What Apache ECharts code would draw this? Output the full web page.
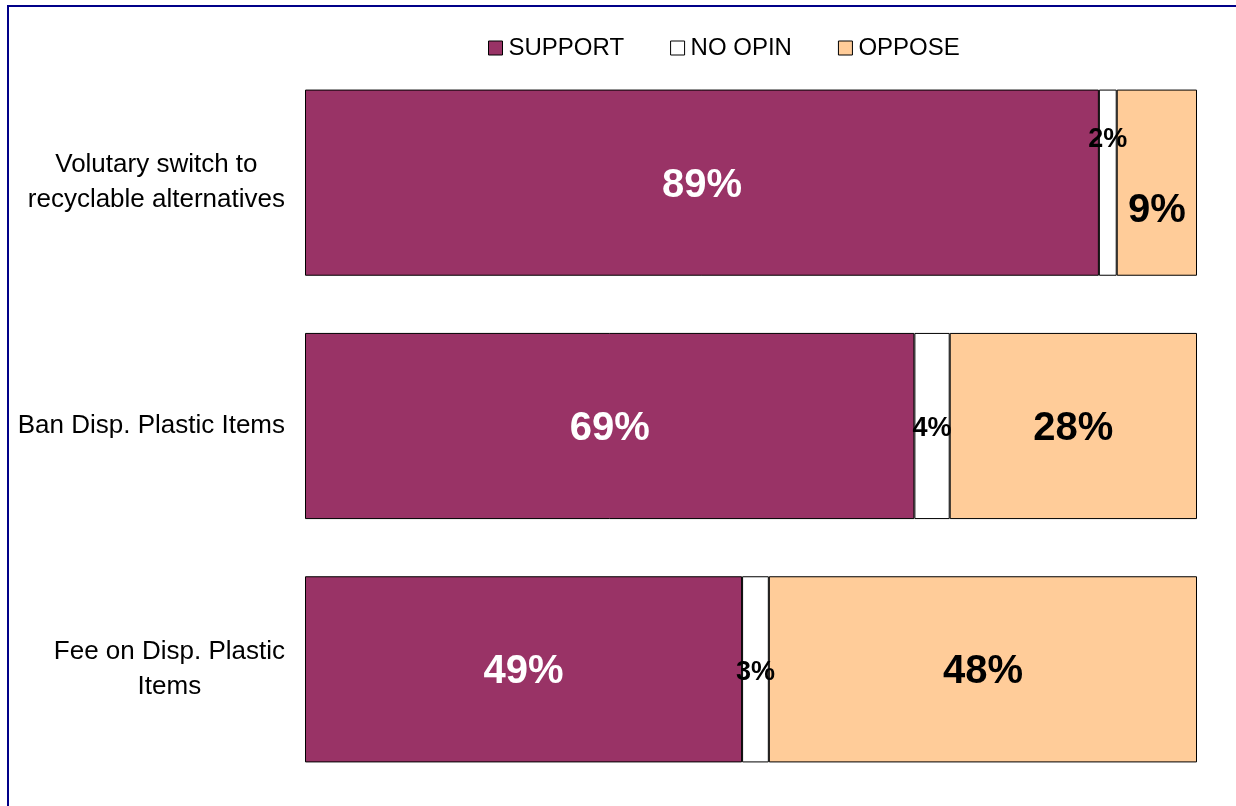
<!DOCTYPE html>
<html>
<head>
<meta charset="utf-8">
<script src="https://cdn.jsdelivr.net/npm/echarts@6/dist/echarts.min.js"></script>
<style>
  html, body { margin: 0; padding: 0; background: #ffffff; }
  #chart { width: 1236px; height: 806px; }
</style>
</head>
<body>
<div id="chart"></div>
<script>
// Survey responses per policy option (percent)
const categories = [
  'Volutary switch to\nrecyclable alternatives',
  'Ban Disp. Plastic Items',
  'Fee on Disp. Plastic\nItems'
];
const seriesNames = ['SUPPORT', 'NO OPIN', 'OPPOSE'];
const supportValues = [89, 69, 49];
const noOpinValues = [2, 4, 3];
const opposeValues = [9, 28, 48];

const seriesValues = [supportValues, noOpinValues, opposeValues];
const seriesColors = ['#993366', '#ffffff', '#ffcc99'];
const labelColors = ['#ffffff', '#000000', '#000000'];
const labelSizes = [40, 27, 40];
const FONT = 'Liberation Sans, Arial, sans-serif';

// Each bar is shown as shares of its own total (100% stacked)
const totals = categories.map((_, i) =>
  seriesValues.reduce((s, arr) => s + arr[i], 0));

// label nudges for the crowded top bar
const labelOffsets = {
  '1-0': [0, -43],
  '2-0': [0, 28]
};

const series = seriesValues.map((vals, si) => ({
  name: seriesNames[si],
  type: 'bar',
  stack: 'total',
  barCategoryGap: '23.5%',
  itemStyle: { color: seriesColors[si], borderColor: '#000000', borderWidth: 1 },
  label: {
    show: true,
    position: 'inside',
    offset: [0, 3],
    color: labelColors[si],
    fontFamily: FONT,
    fontWeight: 'bold',
    fontSize: labelSizes[si],
    formatter: (p) => vals[p.dataIndex] + '%'
  },
  data: vals.map((v, i) => {
    const item = { value: v / totals[i] * 100 };
    const off = labelOffsets[si + '-' + i];
    if (off) item.label = { offset: off };
    return item;
  })
}));

const chart = echarts.init(document.getElementById('chart'), null, { renderer: 'canvas' });
chart.setOption({
  animation: false,
  backgroundColor: '#ffffff',
  graphic: [{
    type: 'rect',
    shape: { x: 8, y: 6, width: 1300, height: 900 },
    style: { fill: 'none', stroke: '#000088', lineWidth: 2 },
    silent: true
  }],
  legend: {
    data: seriesNames,
    top: 31,
    left: 483,
    itemWidth: 14,
    itemHeight: 14,
    itemGap: 46,
    icon: 'rect',
    textStyle: { fontFamily: FONT, fontSize: 24, color: '#000000', padding: [0, 0, 0, 1] },
    itemStyle: { borderColor: '#000000', borderWidth: 1 }
  },
  grid: { left: 305, right: 39, top: 61, bottom: 15, containLabel: false },
  xAxis: {
    type: 'value',
    min: 0, max: 100,
    show: false
  },
  yAxis: {
    type: 'category',
    data: categories,
    inverse: true,
    axisLine: { show: false },
    axisTick: { show: false },
    axisLabel: {
      margin: 20,
      align: 'right',
      formatter: (v) => v.split('\n').map((l) => '{c|' + l + '}').join('\n'),
      rich: {
        c: {
          align: 'center',
          fontFamily: FONT,
          fontSize: 26,
          lineHeight: 35,
          color: '#000000'
        }
      }
    }
  },
  series: series
});
</script>
</body>
</html>
